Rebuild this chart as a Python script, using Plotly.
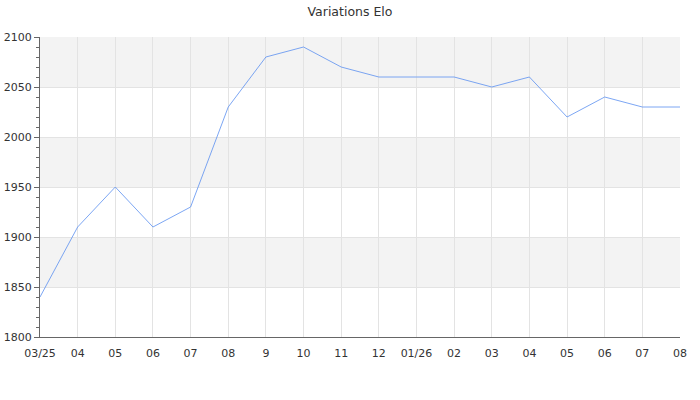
import plotly.graph_objects as go

labels = ["03/25", "04", "05", "06", "07", "08", "9", "10", "11", "12",
          "01/26", "02", "03", "04", "05", "06", "07", "08"]
elo = [1840, 1910, 1950, 1910, 1930, 2030, 2080, 2090, 2070, 2060,
       2060, 2060, 2050, 2060, 2020, 2040, 2030, 2030]
bands = [(2050, 2100), (1950, 2000), (1850, 1900)]

x = list(range(len(labels)))
fig = go.Figure()
fig.add_trace(go.Scatter(x=x, y=elo, mode="lines",
                         line=dict(color="#5b8ff0", width=0.8),
                         hoverinfo="y", showlegend=False))
for lo, hi in bands:
    fig.add_shape(type="rect", xref="paper", yref="y", x0=0, x1=1, y0=lo, y1=hi,
                  fillcolor="#f3f3f3", line=dict(width=0), layer="below")

fig.update_layout(
    width=700, height=400,
    margin=dict(l=40, r=20, t=37, b=63, autoexpand=False),
    paper_bgcolor="white", plot_bgcolor="white",
    font=dict(family="DejaVu Sans", size=11, color="#333333"),
    title=dict(text="Variations Elo", x=0.5, xanchor="center", y=0.97, yanchor="middle",
               font=dict(size=12.5, color="#333333")),
)
fig.update_xaxes(
    range=[0, len(labels) - 1], tickmode="array", tickvals=x, ticktext=labels,
    showgrid=True, gridcolor="#e3e3e3", gridwidth=1,
    showline=True, linecolor="#666666", linewidth=1,
    ticks="", ticklabelstandoff=6, zeroline=False, fixedrange=True, automargin=False,
)
fig.update_yaxes(
    range=[1800, 2100], dtick=50, tick0=1800,
    showgrid=True, gridcolor="#e3e3e3", gridwidth=1,
    showline=True, linecolor="#666666", linewidth=1,
    ticks="outside", ticklen=5, tickcolor="#666666",
    minor=dict(dtick=10, ticks="outside", ticklen=3, tickcolor="#666666", showgrid=False),
    zeroline=False, fixedrange=True, automargin=False,
)
fig.write_html("out.html", config={"displayModeBar": False},
               post_script="document.body.style.margin='0';")
